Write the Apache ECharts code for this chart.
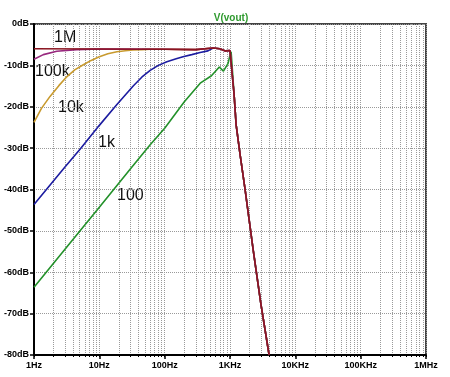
<!DOCTYPE html>
<html>
<head>
<meta charset="utf-8">
<script src="https://cdn.jsdelivr.net/npm/echarts@6/dist/echarts.min.js"></script>
<style>
html, body { margin: 0; padding: 0; background: #fff; }
#main { width: 450px; height: 377px; }
</style>
</head>
<body>
<div id="main"></div>
<script>
// tick labels
var xTickLabels = ['1Hz', '10Hz', '100Hz', '1KHz', '10KHz', '100KHz', '1MHz'];
var yTickLabels = ['0dB', '-10dB', '-20dB', '-30dB', '-40dB', '-50dB', '-60dB', '-70dB', '-80dB'];
var seriesNames = ['100', '1k', '10k', '100k', '1M'];

// head of each curve (Hz, dB)
var freq100 = [1, 3, 10, 30, 60, 100, 200, 350, 520, 686, 793, 935, 1003];
var db100 = [-63.6, -54.4, -44.3, -35, -29.2, -25.2, -18.8, -14.3, -12.5, -10.4, -11.4, -9.5, -7.4];

var freq1k = [1, 3, 5.1, 10, 18.3, 33, 45, 60, 80, 108, 150, 191, 260, 349, 460];
var db1k = [-43.6, -34.5, -30.2, -24.5, -19.6, -15.0, -12.8, -11.2, -10.0, -9.1, -8.4, -7.9, -7.4, -6.9, -6.5];

var freq10k = [1, 1.3, 1.76, 2.4, 3.2, 4.2, 5.6, 7.5, 10, 13.5, 18.6, 25, 32.6, 45, 60];
var db10k = [-23.8, -20.4, -17.5, -14.9, -12.7, -11.1, -9.9, -8.8, -7.9, -7.2, -6.7, -6.45, -6.3, -6.2, -6.1];

var freq100k = [1, 1.39, 2.23, 4.5, 10];
var db100k = [-8.5, -7.4, -6.6, -6.2, -6.05];

// common plateau (the 1M curve) and the common roll-off
var freqFlat = [1, 100, 300, 550, 700, 850, 1000];
var dbFlat = [-6.0, -6.1, -6.2, -5.8, -6.0, -6.5, -6.4];

var freqDrop = [1040, 1156, 1240, 1428, 1702, 2259, 2993, 3970];
var dbDrop = [-6.7, -17.1, -24.3, -31.6, -40, -54.5, -68, -80];

var colors = ['#23912a', '#1c1ca0', '#c89a2e', '#98287e', '#8a1420'];

function build(f, d) {
    var pts = [];
    var last = f.length ? f[f.length - 1] : 0;
    for (var i = 0; i < f.length; i++) pts.push([f[i], d[i]]);
    for (var j = 0; j < freqFlat.length; j++) {
        if (freqFlat[j] > last) pts.push([freqFlat[j], dbFlat[j]]);
    }
    for (var k = 0; k < freqDrop.length; k++) pts.push([freqDrop[k], dbDrop[k]]);
    return pts;
}

var curves = [
    build(freq100, db100),
    build(freq1k, db1k),
    build(freq10k, db10k),
    build(freq100k, db100k),
    build([], [])
];

var minorVals = [];
for (var p = 0; p < 6; p++) {
    for (var m = 1; m < 10; m++) minorVals.push(m * Math.pow(10, p));
}
minorVals.push(1e6);

var font = 'Liberation Sans, Arial, sans-serif';

var chart = echarts.init(document.getElementById('main'));
var option = {
    animation: false,
    grid: {
        left: 34, right: 24, top: 24, bottom: 22,
        show: true, borderColor: '#444', borderWidth: 2
    },
    xAxis: [{
        type: 'log', logBase: 10, min: 1, max: 1e6,
        position: 'bottom',
        axisLine: { onZero: false, lineStyle: { color: '#000', width: 2 } },
        axisTick: { length: 4, lineStyle: { color: '#000', width: 1.5 } },
        axisLabel: {
            margin: 6, fontSize: 9, fontWeight: 'bold', color: '#000', fontFamily: font,
            formatter: function (v) { return xTickLabels[Math.round(Math.log10(v))]; }
        },
        splitLine: { show: false }
    }, {
        type: 'log', logBase: 10, min: 1, max: 1e6,
        position: 'bottom',
        axisLine: { show: false, onZero: false },
        axisLabel: { show: false },
        axisTick: { customValues: minorVals, length: 2, lineStyle: { color: '#000' } },
        splitLine: { show: true, lineStyle: { type: 'dotted', color: '#9a9a9a', width: 1 } }
    }],
    yAxis: {
        type: 'value', min: -80, max: 0, interval: 10,
        axisLine: { show: true, onZero: false, lineStyle: { color: '#000', width: 2 } },
        axisTick: { show: true, length: 4, lineStyle: { color: '#000', width: 1.5 } },
        axisLabel: {
            margin: 5, fontSize: 9, fontWeight: 'bold', color: '#000', fontFamily: font,
            formatter: function (v) { return yTickLabels[Math.round(-v / 10)]; }
        },
        splitLine: { lineStyle: { type: 'dotted', color: '#9a9a9a', width: 1 } }
    },
    series: curves.map(function (pts, i) {
        return {
            name: seriesNames[i],
            type: 'line',
            xAxisIndex: 0,
            data: pts,
            symbol: 'none',
            smooth: false,
            lineStyle: { color: colors[i], width: 1.6 },
            z: 3 + i
        };
    }),
    graphic: [
        { type: 'text', x: 231, y: 18, style: { text: 'V(vout)', fill: '#2f9a2f', font: 'bold 10px ' + font, textAlign: 'center', textVerticalAlign: 'middle' } },
        { type: 'text', x: 54, y: 38, style: { text: '1M', fill: '#111', font: '16px ' + font, textVerticalAlign: 'middle' } },
        { type: 'text', x: 35, y: 72, style: { text: '100k', fill: '#111', font: '16px ' + font, textVerticalAlign: 'middle' } },
        { type: 'text', x: 58, y: 107.5, style: { text: '10k', fill: '#111', font: '16px ' + font, textVerticalAlign: 'middle' } },
        { type: 'text', x: 98, y: 143, style: { text: '1k', fill: '#111', font: '16px ' + font, textVerticalAlign: 'middle' } },
        { type: 'text', x: 117, y: 196, style: { text: '100', fill: '#111', font: '16px ' + font, textVerticalAlign: 'middle' } }
    ]
};
chart.setOption(option);
</script>
</body>
</html>
